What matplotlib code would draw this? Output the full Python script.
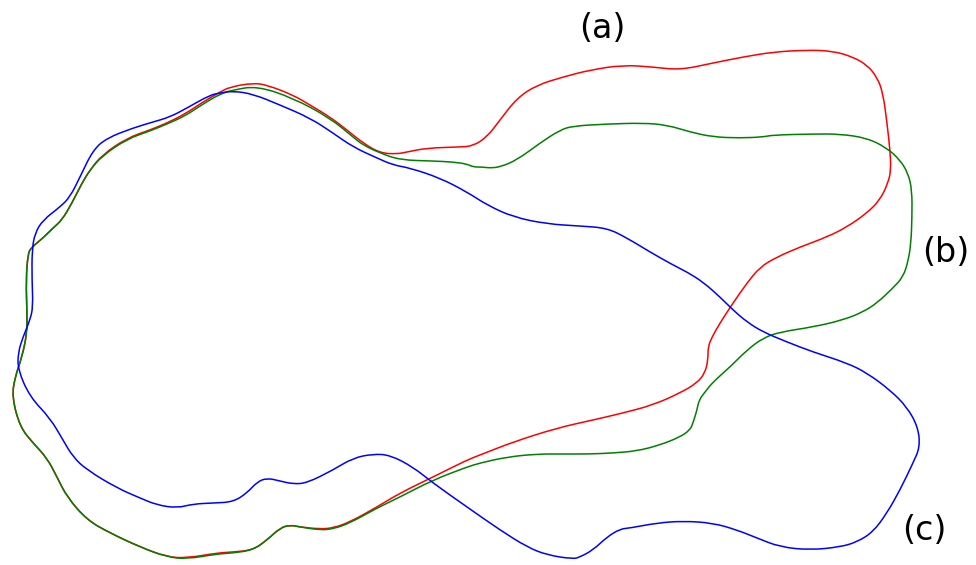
import matplotlib
matplotlib.use("Agg")
import numpy as np
import matplotlib.pyplot as plt
from matplotlib.path import Path
import matplotlib.patches as patches

# Contornos (a), (b), (c) en coordenadas de imagen (x a la derecha, y hacia abajo)
contorno_a_x = [32, 43, 53, 62, 72, 82, 90, 102, 127, 150, 167, 185, 203, 220, 230, 253, 267,
                293, 310, 330, 347, 363, 380, 397, 407, 427, 460, 473, 487, 500, 517, 537, 563,
                590, 623, 653, 680, 713, 743, 773, 807, 833, 853, 867, 877, 883, 887, 890, 891,
                888, 880, 867, 847, 827, 800, 777, 760, 747, 733, 720, 712, 708, 708, 705, 697,
                680, 653, 623, 593, 557, 513, 480, 467, 433, 400, 377, 350, 333, 320, 300, 290,
                280, 267, 253, 233, 217, 187, 167, 140, 110, 87, 67, 57, 47, 33, 20, 12, 15, 22,
                27, 27, 26, 28]
contorno_a_y = [247, 238, 228, 220, 203, 183, 170, 155, 138, 130, 123, 114, 102, 92, 87, 83, 85,
                95, 105, 117, 130, 143, 153, 154, 152, 148, 147, 146, 137, 120, 98, 85, 77,
                70, 65, 67, 70, 63, 57, 52, 50, 51, 57, 65, 77, 93, 123, 150, 170,
                183, 200, 213, 227, 237, 247, 257, 267, 283, 303, 323, 337, 347, 360, 373, 383,
                393, 405, 413, 420, 428, 442, 455, 460, 477, 493, 507, 522, 528, 529, 527, 525,
                528, 540, 550, 552, 553, 558, 557, 547, 533, 520, 497, 477, 458, 443, 427, 397, 377, 357,
                333, 313, 280, 253]

contorno_b_x = [32, 43, 53, 62, 72, 82, 90, 102, 127, 150, 167, 185, 203, 220, 233, 257, 293,
                330, 353, 363, 380, 400, 433, 453, 467, 473, 482, 490, 500, 517, 540, 560, 573,
                607, 643, 667, 690, 713, 740, 763, 773, 813, 840, 867, 887, 900, 908, 912, 912,
                911, 908, 903, 893, 877, 863, 843, 813, 780, 763, 747, 730, 713, 705, 699, 697,
                693, 690, 680, 660, 637, 613, 590, 563, 537, 507, 480, 467, 433, 400, 377, 350,
                333, 320, 300, 290, 280, 267, 253, 233, 217, 187, 167, 140, 110, 87, 67, 57, 47,
                33, 20, 12, 15, 22, 27, 27, 26, 28]
contorno_b_y = [247, 238, 228, 220, 203, 183, 170, 156, 139, 131, 124, 116, 104, 94, 90, 86, 98,
                118, 137, 145, 153, 160, 161, 162, 164, 167, 167, 168, 167, 160, 143, 130, 126,
                124, 123, 125, 132, 137, 138, 137, 135, 134, 134, 138, 148, 160, 173, 190, 217,
                243, 262, 277, 288, 303, 312, 320, 327, 332, 338, 350, 367, 382, 392, 400, 410,
                423, 430, 437, 445, 451, 453, 454, 454, 454, 457, 463, 467, 480, 497, 508, 523,
                529, 530, 527, 525, 528, 540, 550, 553, 554, 559, 557, 547, 533, 520, 497, 477, 458,
                443, 427, 397, 377, 357, 333, 313, 280, 253]

contorno_c_x = [35, 43, 60, 70, 80, 93, 107, 133, 153, 170, 187, 210, 220, 233, 253, 280, 310,
                333, 353, 377, 393, 410, 440, 467, 487, 513, 547, 580, 607, 627, 650, 673, 687,
                703, 720, 733, 747, 763, 787, 813, 847, 867, 890, 907, 918, 920, 913, 900, 887,
                873, 857, 840, 810, 780, 757, 737, 713, 683, 657, 630, 620, 607, 593, 580, 573,
                547, 527, 500, 467, 433, 413, 390, 373, 353, 333, 307, 293, 280, 267, 257, 247,
                233, 213, 193, 177, 157, 140, 117, 87, 73, 63, 50, 30, 18, 18, 23, 30, 33, 32,
                32]
contorno_c_y = [233, 220, 207, 197, 177, 150, 138, 128, 122, 117, 108, 95, 93, 91, 94, 105, 118,
                133, 147, 158, 165, 168, 178, 192, 205, 217, 224, 226, 228, 238, 252, 265, 272,
                282, 297, 310, 322, 332, 342, 352, 363, 373, 390, 407, 427, 447, 463, 490, 513,
                532, 542, 547, 550, 547, 538, 530, 523, 521, 523, 528, 529, 537, 550, 557, 559,
                555, 547, 530, 507, 483, 467, 455, 454, 458, 470, 483, 484, 481, 478, 482, 493,
                502, 503, 504, 508, 505, 498, 488, 470, 457, 440, 418, 397, 370, 353, 337, 320, 307, 280,
                250]

etiquetas = ["(a)", "(b)", "(c)"]
posiciones = [(602, 29), (946, 252), (924, 530)]


def contorno_suave(xs, ys):
    # curva cerrada: los puntos hacen de control, los puntos medios de vértices
    p = np.column_stack([xs, ys]).astype(float)
    medios = (p + np.roll(p, -1, axis=0)) / 2
    verts = [medios[-1]]
    codes = [Path.MOVETO]
    for i in range(len(p)):
        verts += [p[i], medios[i]]
        codes += [Path.CURVE3, Path.CURVE3]
    return Path(verts, codes)


fig = plt.figure(figsize=(9.76, 5.65), dpi=100)
ax = fig.add_axes([0, 0, 1, 1])

for xs, ys, color in [(contorno_a_x, contorno_a_y, 'red'),
                      (contorno_b_x, contorno_b_y, 'green'),
                      (contorno_c_x, contorno_c_y, 'blue')]:
    ax.add_patch(patches.PathPatch(contorno_suave(xs, ys), facecolor='none',
                                   edgecolor=color, linewidth=1.1))

for texto, (x, y) in zip(etiquetas, posiciones):
    ax.text(x, y, texto, fontsize=24, ha='center', va='center', color='black')

ax.set_xlim(0, 976)
ax.set_ylim(565, 0)
ax.axis('off')

fig.savefig("out.png", dpi=100, facecolor='white')
